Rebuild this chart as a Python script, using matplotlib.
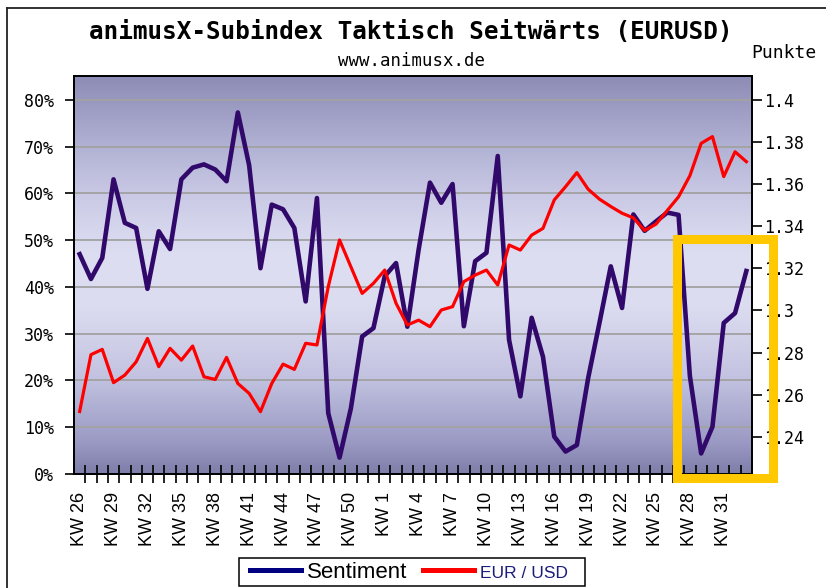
import numpy as np
import matplotlib
matplotlib.use("Agg")
import matplotlib.pyplot as plt
from matplotlib.colors import LinearSegmentedColormap
from matplotlib.lines import Line2D
from matplotlib.patches import Rectangle

# calendar weeks: KW 26 .. KW 52, then KW 1 .. KW 33
weeks = list(range(26, 53)) + list(range(1, 34))

# sentiment in percent (left axis)
sentiment = [47.0, 41.7, 46.2, 63.0, 53.7, 52.6, 39.6, 51.9, 48.1, 63.0,
             65.5, 66.2, 65.1, 62.6, 77.3, 66.0, 44.0, 57.6, 56.6, 52.6,
             36.9, 59.0, 13.0, 3.5, 14.0, 29.4, 31.2, 42.3, 45.1, 31.5,
             48.0, 62.3, 58.0, 62.0, 31.6, 45.5, 47.3, 68.0, 28.7, 16.6,
             33.4, 25.1, 8.0, 4.8, 6.2, 20.5, 32.3, 44.4, 35.5, 55.5,
             52.0, 54.0, 55.9, 55.4, 21.0, 4.4, 10.1, 32.3, 34.4, 43.4]

# EUR/USD in points (right axis)
eurusd = [1.2520, 1.2790, 1.2815, 1.2657, 1.2693, 1.2756, 1.2867, 1.2733, 1.2820, 1.2764,
          1.2831, 1.2685, 1.2672, 1.2777, 1.2653, 1.2606, 1.2519, 1.2653, 1.2745, 1.2720,
          1.2844, 1.2836, 1.3113, 1.3335, 1.3208, 1.3081, 1.3129, 1.3192, 1.3034, 1.2931,
          1.2954, 1.2923, 1.3002, 1.3018, 1.3137, 1.3168, 1.3192, 1.3121, 1.3311, 1.3287,
          1.3358, 1.3390, 1.3525, 1.3588, 1.3655, 1.3576, 1.3529, 1.3494, 1.3462, 1.3440,
          1.3380, 1.3410, 1.3475, 1.3540, 1.3640, 1.3794, 1.3826, 1.3636, 1.3754, 1.3707]

pct_ticks = list(range(0, 81, 10))
usd_ticks = [1.24, 1.26, 1.28, 1.30, 1.32, 1.34, 1.36, 1.38, 1.40]

W, H = 826, 588
mono = "DejaVu Sans Mono"
sans = "Liberation Sans"

fig = plt.figure(figsize=(W / 100, H / 100), dpi=100)
ax = fig.add_axes([74 / W, 1 - 474 / H, (752 - 74) / W, (474 - 76) / H])
ax2 = ax.twinx()

x = np.arange(len(weeks))

# purple-grey background gradient
bg = LinearSegmentedColormap.from_list("bg", [
    (0.0, "#7e7eaa"), (0.08, "#9a9ac4"), (0.25, "#c4c4e2"), (0.42, "#dcdcf0"),
    (0.55, "#dedef2"), (0.7, "#cacae6"), (0.85, "#acacd0"), (1.0, "#8c8cb6")])
ax.imshow(np.linspace(0, 1, 256).reshape(-1, 1), extent=[0, 1, 0, 1],
          transform=ax.transAxes, cmap=bg, aspect="auto", origin="lower", zorder=0)

ax.plot(x, sentiment, color="#31096b", lw=3.3, zorder=3)
ax2.plot(x, eurusd, color="#ff0000", lw=2.3, zorder=3)

ax.set_xlim(-0.5, len(weeks) - 0.5)
ax.set_ylim(0, 85.1)
ax2.set_ylim(1.2223, 1.4114)

# left axis
ax.set_yticks(pct_ticks)
ax.set_yticklabels([f"{v}%" for v in pct_ticks], family=mono, fontsize=12)
ax.tick_params(axis="y", direction="out", length=6.5, width=1.2, pad=8)
ax.yaxis.grid(True, color="#a2a2a2", lw=1.3)
ax.set_axisbelow(True)

# right axis
ax2.set_yticks(usd_ticks)
ax2.set_yticklabels([f"{v:g}" for v in usd_ticks], family=mono, fontsize=12)
ax2.tick_params(axis="y", direction="out", length=7, width=1.2, pad=2)

# x axis: labels every 3 weeks, ticks at the week boundaries
ax.set_xticks(x[::3])
ax.set_xticklabels([f"KW {w}" for w in weeks[::3]], rotation=90, family=sans, fontsize=13)
ax.tick_params(axis="x", which="major", length=0, pad=13)
ax.set_xticks(np.arange(0.5, len(weeks) - 0.5, 1), minor=True)
ax.tick_params(axis="x", which="minor", direction="inout", length=13, width=1.2)

for a in (ax, ax2):
    for s in a.spines.values():
        s.set_linewidth(1.3)
        s.set_color("black")

# titles
fig.text(411 / W, 1 - 32 / H, "animusX-Subindex Taktisch Seitwärts (EURUSD)",
         ha="center", va="center", family=mono, fontsize=17.5, weight="bold")
fig.text(411 / W, 1 - 61 / H, "www.animusx.de", ha="center", va="center",
         family=mono, fontsize=12.5)
fig.text(751 / W, 1 - 53 / H, "Punkte", ha="left", va="center", family=mono, fontsize=13)

# legend (frame drawn separately to match the original box)
handles = [Line2D([], [], color="#000080", lw=3.6), Line2D([], [], color="#ff0000", lw=3.6)]
leg = fig.legend(handles, ["Sentiment", "EUR / USD"], loc="center",
                 bbox_to_anchor=(409 / W, 1 - 572 / H), ncol=2, frameon=False,
                 prop={"family": sans, "size": 16}, handlelength=2.3,
                 handletextpad=0.25, columnspacing=0.7, borderpad=0.15,
                 borderaxespad=0)
leg.get_texts()[1].set_fontsize(12.5)
leg.get_texts()[1].set_color("#1c1c7a")
fig.add_artist(Rectangle((239 / W, 1 - 586 / H), (585 - 239) / W, (586 - 558) / H,
                         transform=fig.transFigure, fill=False, ec="black", lw=1.1))

# yellow highlight box
fig.add_artist(Rectangle((677 / W, 1 - 478 / H), (772.5 - 677) / W, (478 - 239) / H,
                         transform=fig.transFigure, fill=False, ec="#ffc800",
                         lw=6.5, zorder=10))

# outer frame (top and left edges visible)
fig.add_artist(Line2D([7 / W, 7 / W], [0, 1 - 8 / H], transform=fig.transFigure,
                      color="#222222", lw=1.3))
fig.add_artist(Line2D([7 / W, 1], [1 - 8 / H, 1 - 8 / H], transform=fig.transFigure,
                      color="#222222", lw=1.3))

fig.savefig("out.png", dpi=100)
